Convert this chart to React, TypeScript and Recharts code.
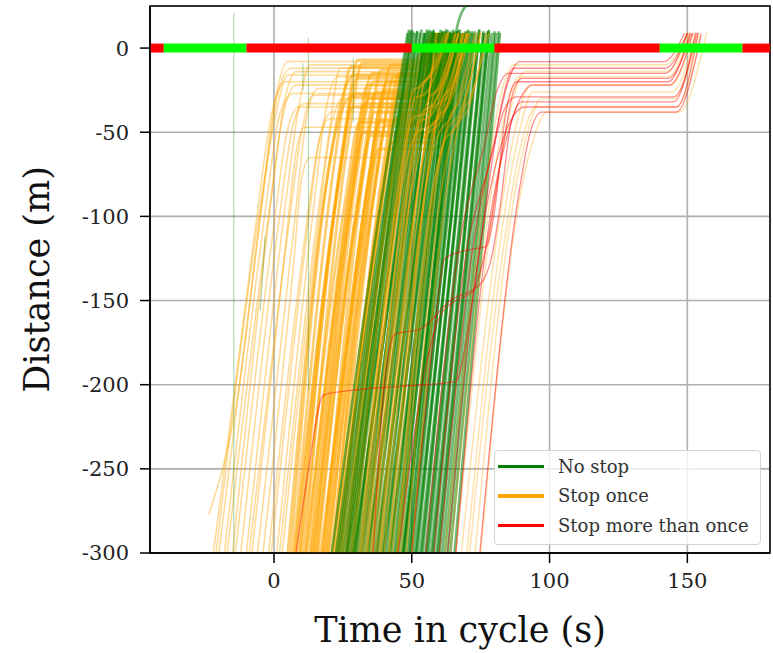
import { LineChart, Line, XAxis, YAxis, CartesianGrid, ReferenceArea } from "recharts";

const xTicks = [0, 50, 100, 150];
const yTicks = [-300, -250, -200, -150, -100, -50, 0];

// signal phases at the stop line (time in cycle, s)
const phaseStart = [-45, -40, -10, 50, 80, 140, 170];
const phaseEnd = [-40, -10, 50, 80, 140, 170, 180];
const phaseState = ["red", "green", "red", "green", "red", "green", "red"];

const legendLabels = ["No stop", "Stop once", "Stop more than once"];
const legendKinds = ["noStop", "stopOnce", "stopMore"];

// trajectories as flat [t, d, t, d, ...] lists
// stop once: arrived early in the red
const earlyQueue: number[][] = [
  [-23.6, -277, -13, -205, -4, -88, 1, -30, 6, -12, 51, -12, 59, 9],
  [-22, -300, -7, -110, -1, -40, 4, -20, 53, -20, 61, 9],
  [-21, -300, -6, -105, 0, -45, 5, -16, 52, -16, 60, 9],
  [-20, -300, -5, -100, 0, -35, 5, -8, 50.5, -8, 57.5, 9],
  [-18, -300, -3, -95, 2, -40, 7, -27, 54, -27, 63, 9],
  [-17, -300, -2, -100, 3, -42, 8, -22, 53, -22, 61.5, 9],
  [-15, -300, -1, -90, 4, -30, 8, -14, 51.5, -14, 59, 9],
  [-14, -300, 0, -105, 5, -48, 9, -35, 55.5, -35, 65, 9],
  [-12, -300, 2, -100, 7, -45, 11, -33, 55, -33, 64.5, 9],
  [-10, -300, 4, -95, 9, -35, 13, -10, 51, -10, 58, 9],
  [-9, -300, 5, -110, 10, -50, 14, -28, 54.5, -28, 63, 9],
  [-8, -300, 4, -120, 8, -62, 11, -47, 57, -47, 67, 9],
  [-6, -300, 7, -110, 12, -40, 16, -24, 53.5, -24, 62, 9],
  [-4, -300, 7, -130, 10, -78, 13, -65, 59, -65, 71, 9],
  [-2, -300, 11, -115, 16, -58, 20, -42, 56, -42, 66, 9],
  [-1, -300, 12, -110, 17, -50, 21, -38, 55.5, -38, 65.5, 9],
  [1, -300, 14, -100, 19, -35, 23, -17, 52.5, -17, 60.5, 9],
  [2, -300, 15, -110, 20, -50, 24, -12, 51.5, -12, 58.5, 9],
  [3, -300, 16, -105, 21, -45, 25, -30, 54.5, -30, 63.5, 9],
];

// stop once: main queue of the cycle
const mainQueue: number[][] = [
  [5, -300, 19, -80, 24, -40, 28, -29, 54.5, -29, 63.5, 9],
  [6, -300, 20, -70, 25, -28, 29, -16, 52, -16, 60, 9],
  [7, -300, 23, -56, 28, -11, 51.5, -11, 58.5, 9],
  [7.5, -300, 23.5, -80, 28.5, -35, 55, -35, 64.5, 9],
  [8, -300, 24, -72, 29, -27, 54, -27, 62.5, 9],
  [9, -300, 25, -63, 30, -18, 52.5, -18, 60.5, 9],
  [9.5, -300, 25.5, -52, 30.5, -7, 50.5, -7, 57, 9],
  [10, -300, 26, -89, 31, -44, 56.5, -44, 66.5, 9],
  [11, -300, 27, -54, 32, -9, 51, -9, 58, 9],
  [11.5, -300, 27.5, -95, 32.5, -50, 57, -50, 68, 9],
  [12, -300, 28, -78, 33, -33, 54.5, -33, 64, 9],
  [13, -300, 29, -67, 34, -22, 53, -22, 61.5, 9],
  [13.5, -300, 29.5, -75, 34.5, -30, 54.5, -30, 63.5, 9],
  [14, -300, 30, -97, 35, -52, 57.5, -52, 68.5, 9],
  [14.5, -300, 30.5, -60, 35.5, -15, 52, -15, 59.5, 9],
  [15, -300, 31, -65, 36, -20, 53, -20, 61, 9],
  [15.5, -300, 31.5, -83, 36.5, -38, 55.5, -38, 65, 9],
  [16, -300, 32, -71, 37, -26, 53.5, -26, 62, 9],
  [17, -300, 33, -105, 38, -60, 58.5, -60, 70, 9],
  [17.5, -300, 33.5, -88, 38.5, -43, 56, -43, 66.5, 9],
  [18, -300, 34, -58, 39, -13, 52, -13, 59, 9],
  [18.5, -300, 34.5, -75, 39.5, -30, 54.5, -30, 63.5, 9],
  [19, -300, 35, -70, 40, -25, 53.5, -25, 62, 9],
  [19.5, -300, 35.5, -91, 40.5, -46, 56.5, -46, 67, 9],
  [20, -300, 36, -65, 41, -20, 53, -20, 61, 9],
  [21, -300, 37, -80, 42, -35, 55, -35, 64.5, 9],
  [21.5, -300, 37.5, -55, 42.5, -10, 51, -10, 58, 9],
  [22, -300, 38, -101, 43, -56, 58, -56, 69.5, 9],
  [22.5, -300, 38.5, -62, 43.5, -17, 52.5, -17, 60, 9],
  [23, -300, 39, -98, 44, -53, 57.5, -53, 69, 9],
  [23.5, -300, 39.5, -86, 44.5, -41, 56, -41, 66, 9],
  [24, -300, 40, -73, 45, -28, 54, -28, 62.5, 9],
  [24.5, -300, 40.5, -60, 45.5, -15, 52, -15, 59.5, 9],
  [25, -300, 41, -95, 46, -50, 57, -50, 68, 9],
  [26, -300, 42, -57, 47, -12, 51.5, -12, 58.5, 9],
  [26.3, -300, 42.3, -84, 47.3, -39, 55.5, -39, 65.5, 9],
  [26.5, -300, 42.5, -78, 47.5, -33, 54.5, -33, 64, 9],
  [27.5, -300, 43.5, -68, 48.5, -23, 53.5, -23, 62, 9],
  [28, -300, 44, -90, 49, -45, 56.5, -45, 67, 9],
  [28.5, -300, 44.5, -76, 49.5, -31, 54.5, -31, 63.5, 9],
  [29, -300, 45, -64, 50, -19, 53, -19, 61, 9],
  [30, -300, 46, -82, 51, -37, 55.5, -37, 65.5, 9],
];

// stop once: slowed while the queue discharged
const lateSlowed: number[][] = [
  [31, -300, 46, -75, 50, -42, 56, -38, 66, 9],
  [31.5, -300, 46.5, -65, 50.5, -25, 54, -22, 62, 9],
  [32, -300, 47, -70, 51, -30, 55, -27, 63, 9],
  [33, -300, 48, -68, 52, -50, 58, -45, 69, 9],
  [33.5, -300, 48.5, -78, 52.5, -44, 57, -40, 67, 9],
  [34, -300, 49, -62, 53, -22, 56, -18, 63, 9],
  [35, -300, 50, -70, 54, -38, 58, -33, 67, 9],
  [35.5, -300, 50.5, -62, 54.5, -20, 57, -16, 63.5, 9],
  [36, -300, 50.5, -80, 55, -52, 60, -45, 70, 9],
  [37, -300, 52, -60, 56, -30, 59, -25, 66, 9],
  [38, -300, 53, -75, 57, -46, 61, -40, 70, 9],
  [38.5, -300, 53.5, -70, 57.5, -36, 61, -31, 68.5, 9],
  [39, -300, 54, -65, 58, -28, 61, -22, 67, 9],
  [40, -300, 55, -70, 59, -42, 63, -35, 71, 9],
  [41.5, -300, 56, -75, 60, -50, 64, -42, 73, 9],
  [42, -300, 56.5, -66, 60.5, -34, 63.5, -28, 70.5, 9],
  [43, -300, 57, -62, 61, -30, 64, -24, 70, 9],
  [44.5, -300, 58, -80, 62, -55, 66, -47, 75, 9],
  [45, -300, 59, -74, 63, -48, 67, -40, 75, 9],
  [46, -300, 60, -70, 64, -40, 67, -33, 74, 9],
  [48, -300, 62, -72, 66, -45, 70, -38, 77, 9],
  [50, -300, 64, -70, 68, -40, 71, -30, 78, 9],
];

// stop once: waited for the next green
const nextCycle: number[][] = [
  [62, -300, 76, -90, 82, -30, 87, -10, 142, -10, 150, 9],
  [64, -300, 78, -95, 84, -38, 89, -17, 143, -17, 151, 9],
  [66, -300, 80, -90, 86, -35, 91, -14, 142.5, -14, 150.5, 9],
  [68, -300, 82, -100, 88, -45, 93, -22, 144, -22, 152, 9],
  [70, -300, 83, -105, 89, -50, 94, -26, 144.5, -26, 153, 9],
  [71, -300, 84, -110, 90, -55, 95, -35, 146, -35, 155, 9],
  [73, -300, 86, -100, 92, -50, 97, -30, 145, -30, 154, 9],
  [75, -300, 88, -100, 94, -55, 99, -38, 147, -38, 157, 9],
];

const noStopTracks: number[][] = [
  [21, -300, 38, -100, 48.5, 9],
  [22.5, -300, 39.5, -100, 50.5, 10],
  [23.2, -300, 40, -100, 49, 11],
  [24, -300, 40.8, -100, 49.5, 10],
  [25, -300, 42.2, -100, 51, 9],
  [26, -300, 41.8, -100, 50, 11],
  [26.5, -300, 43, -100, 52, 10],
  [27, -300, 44.2, -100, 53, 9],
  [28, -300, 43.8, -100, 52, 10],
  [28.8, -300, 46.1, -100, 55, 9],
  [29.2, -300, 45.8, -100, 54.5, 9],
  [29.6, -300, 45.4, -100, 53.5, 11],
  [30.4, -300, 47.3, -100, 56, 10],
  [31.2, -300, 46.6, -100, 54.5, 9],
  [31.6, -300, 48, -100, 56.5, 11],
  [32, -300, 48.8, -100, 57.5, 10],
  [32.8, -300, 47.8, -100, 55.5, 11],
  [33.6, -300, 50, -100, 58.5, 9],
  [34, -300, 50.3, -100, 58, 10],
  [34.4, -300, 49.3, -100, 57, 10],
  [35.2, -300, 51.6, -100, 60, 9],
  [36, -300, 50.5, -100, 58, 11],
  [36.8, -300, 52.8, -100, 61, 10],
  [37.2, -300, 53, -100, 61.5, 9],
  [37.6, -300, 52.1, -100, 59.5, 9],
  [38.4, -300, 54, -100, 62, 10],
  [39.2, -300, 53.3, -100, 60.5, 11],
  [39.6, -300, 55, -100, 62.5, 11],
  [40, -300, 55.5, -100, 63.5, 9],
  [40.8, -300, 54.5, -100, 61.5, 10],
  [41.6, -300, 56.7, -100, 64.5, 9],
  [42, -300, 57, -100, 64, 10],
  [42.4, -300, 56, -100, 63, 11],
  [43.2, -300, 57.9, -100, 65.5, 10],
  [44, -300, 57.2, -100, 64, 9],
  [44.4, -300, 58.5, -100, 66, 9],
  [44.8, -300, 59.1, -100, 66.5, 10],
  [45.6, -300, 58.4, -100, 65, 11],
  [46.4, -300, 60.3, -100, 67.5, 9],
  [46.8, -300, 60.5, -100, 67, 11],
  [47, -300, 60, -100, 66, 9, 70, 26],
  [47.2, -300, 59.9, -100, 66.5, 10],
  [48, -300, 61.5, -100, 68.5, 9],
  [48.8, -300, 61.1, -100, 67.5, 11],
  [49.2, -300, 62.4, -100, 69.5, 10],
  [49.6, -300, 63.1, -100, 70, 10],
  [50.4, -300, 62.7, -100, 69, 9],
  [51.2, -300, 64.3, -100, 71, 10],
  [51.6, -300, 64.5, -100, 71.5, 9],
  [52, -300, 64.2, -100, 70.5, 11],
  [53, -300, 65.9, -100, 72.5, 9],
  [53.5, -300, 66.2, -100, 73, 10],
  [54, -300, 65.9, -100, 72, 10],
  [55, -300, 67.5, -100, 74, 9],
  [55.5, -300, 67.8, -100, 74.5, 11],
  [56, -300, 68.2, -100, 74.5, 11],
  [57, -300, 69.5, -100, 76, 10],
  [57.5, -300, 69.8, -100, 76.5, 9],
  [58, -300, 69.9, -100, 76, 9],
  [59, -300, 71.2, -100, 77.5, 10],
  [59.5, -300, 71.5, -100, 78, 10],
  [60, -300, 71.9, -100, 78, 11],
  [61, -300, 72.9, -100, 79, 9],
  [62, -300, 73.9, -100, 80, 10],
  [63, -300, 74.6, -100, 80.5, 9],
  [64, -300, 75.6, -100, 81.5, 10],
  [65.5, -300, 76.4, -100, 82, 9],
];

// stray near-vertical no-stop records
const noStopSpikes: number[][] = [
  [-14.6, 21, -14.6, -300],
  [12.5, 6, 12.5, -203],
  [28.8, -6, 28.8, -44],
  [10.5, -9, 10.5, -25],
  [-5, -156, -3.2, -112],
];

const stopMoreTracks: number[][] = [
  [74.7, -300, 88.5, -90, 93, -50, 97, -38, 146, -38, 155, 8],
  [36, -300, 40, -200, 44, -170, 53, -167, 64, -150, 75, -140, 79, -124, 82, -95, 86, -45, 90, -32, 145, -32, 153, 9],
  [50, -300, 58, -170, 62, -125, 70, -120, 77, -118, 80, -97, 84, -40, 88, -20, 143, -20, 151, 9],
  [8, -300, 12, -256, 18, -206, 30, -203, 46, -201, 66, -198, 72, -150, 78, -80, 83, -30, 87, -12, 142, -12, 150, 9],
  [55, -300, 68, -110, 76, -60, 81, -25, 85, -15, 142, -15, 150, 9],
  [58, -300, 70, -120, 78, -70, 84, -35, 88, -29, 145, -29, 153.5, 9],
  [60, -300, 73, -110, 80, -55, 85, -20, 89, -8, 141.5, -8, 149, 9],
  [63, -300, 75, -115, 82, -60, 87, -40, 91, -35, 146, -35, 154, 9],
  [66, -300, 78, -105, 85, -50, 90, -28, 94, -22, 143.5, -22, 152, 9],
  [45, -300, 55, -190, 60, -160, 66, -150, 72, -145, 78, -110, 83, -60, 87, -25, 90, -18, 143, -18, 151.5, 9],
];

const FONT = "DejaVu Serif";
const COLORS: Record<string, string> = {
  noStop: "#008000",
  stopOnce: "#FFA500",
  stopMore: "#FF0000",
  red: "#FF0000",
  green: "#00FF00",
};

function toPoints(flat: number[]) {
  const pts: { t: number; d: number }[] = [];
  for (let i = 0; i < flat.length; i += 2) pts.push({ t: flat[i], d: flat[i + 1] });
  return pts;
}

function XTitle(props: any) {
  const vb = props.viewBox ?? { x: 150, y: 553, width: 620, height: 100 };
  return (
    <text
      x={vb.x + vb.width / 2}
      y={vb.y + 77}
      textAnchor="middle"
      dominantBaseline="central"
      fontFamily={FONT}
      fontSize={35}
      fill="#111"
    >
      Time in cycle (s)
    </text>
  );
}

function YTitle(props: any) {
  const vb = props.viewBox ?? { x: 0, y: 6, width: 150, height: 547 };
  const cx = vb.x + 37;
  const cy = vb.y + vb.height / 2;
  return (
    <text
      x={cx}
      y={cy}
      transform={`rotate(-90 ${cx} ${cy})`}
      textAnchor="middle"
      dominantBaseline="central"
      fontFamily={FONT}
      fontSize={35}
      fill="#111"
    >
      Distance (m)
    </text>
  );
}

function tracks(list: number[][], prefix: string, color: string, opacity: number, width: number, type: "monotone" | "linear" = "monotone") {
  return list.map((tr, i) => (
    <Line
      key={`${prefix}${i}`}
      data={toPoints(tr)}
      dataKey="d"
      type={type}
      stroke={color}
      strokeOpacity={opacity}
      strokeWidth={width}
      dot={false}
      activeDot={false}
      isAnimationActive={false}
    />
  ));
}

export default function App() {
  const tickStyle = { fontSize: 21, fill: "#222", fontFamily: FONT };
  const axisStroke = { stroke: "#000", strokeWidth: 1.5 };
  return (
    <div style={{ position: "relative", width: 773, height: 653, fontFamily: FONT }}>
      <style>{"body{margin:0}"}</style>
      <LineChart width={773} height={653} margin={{ top: 6, right: 3, bottom: 0, left: 0 }}>
        <CartesianGrid stroke="#b0b0b0" strokeWidth={1.6} />
        <XAxis
          type="number"
          dataKey="t"
          domain={[-45, 180]}
          ticks={xTicks}
          allowDataOverflow
          height={100}
          tickSize={10}
          tickMargin={10}
          tick={tickStyle}
          axisLine={axisStroke}
          tickLine={axisStroke}
          label={{ content: (p: any) => <XTitle {...p} /> }}
        />
        <YAxis
          type="number"
          domain={[-300, 25]}
          ticks={yTicks}
          allowDataOverflow
          width={150}
          tickSize={10}
          tickMargin={11}
          tick={tickStyle}
          axisLine={axisStroke}
          tickLine={axisStroke}
          label={{ content: (p: any) => <YTitle {...p} /> }}
        />
        {tracks(earlyQueue, "e", COLORS.stopOnce, 0.4, 1.6)}
        {tracks(mainQueue, "m", COLORS.stopOnce, 0.55, 2.8)}
        {tracks(noStopTracks, "g", COLORS.noStop, 0.55, 2.6)}
        {tracks(lateSlowed, "l", COLORS.stopOnce, 0.45, 1.8)}
        {tracks(nextCycle, "n", COLORS.stopOnce, 0.3, 1.6)}
        {tracks(noStopSpikes, "s", COLORS.noStop, 0.3, 1.2, "linear")}
        {tracks(stopMoreTracks, "r", COLORS.stopMore, 0.45, 1.3)}
        {phaseStart.map((s, i) => (
          <Line
            key={`p${i}`}
            data={[
              { t: s, d: 0 },
              { t: phaseEnd[i], d: 0 },
            ]}
            dataKey="d"
            type="linear"
            stroke={COLORS[phaseState[i]]}
            strokeWidth={9}
            strokeLinecap="butt"
            dot={false}
            activeDot={false}
            isAnimationActive={false}
          />
        ))}
        <ReferenceArea x1={-45} x2={180} y1={-300} y2={25} fill="none" stroke="#000" strokeWidth={1.5} />
      </LineChart>
      <div
        style={{
          position: "absolute",
          left: 494,
          top: 450,
          width: 267,
          height: 95,
          boxSizing: "border-box",
          border: "1px solid #d4d4d4",
          borderRadius: 4,
          background: "rgba(255,255,255,0.8)",
        }}
      >
        {legendLabels.map((label, i) => (
          <div
            key={label}
            style={{
              position: "absolute",
              left: 0,
              top: 0.5 + i * 29.5,
              height: 29.5,
              display: "flex",
              alignItems: "center",
            }}
          >
            <span
              style={{
                display: "inline-block",
                marginLeft: 3,
                width: 46,
                height: 3.5,
                background: COLORS[legendKinds[i]],
              }}
            />
            <span style={{ marginLeft: 14, fontSize: 18, color: "#333", whiteSpace: "nowrap" }}>{label}</span>
          </div>
        ))}
      </div>
    </div>
  );
}
